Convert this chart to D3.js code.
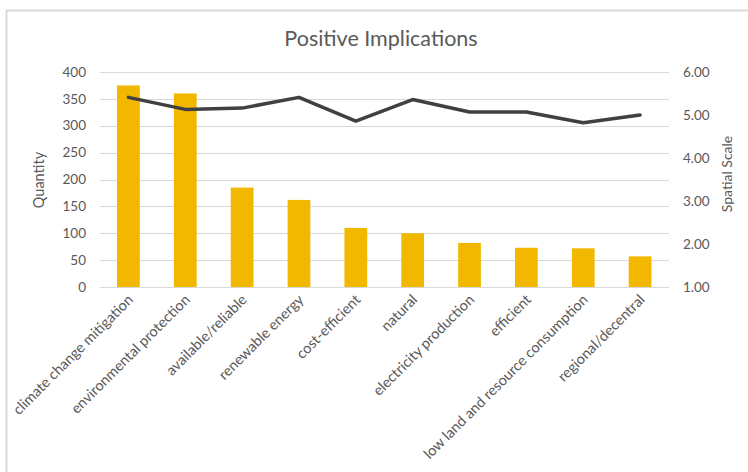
<!DOCTYPE html>
<html>
<head>
<meta charset="utf-8">
<script src="https://cdn.jsdelivr.net/npm/d3@7"></script>
<style>
  body { margin: 0; background: #fff; }
  svg { display: block; font-family: Lato, "Open Sans", sans-serif; }
</style>
</head>
<body>
<svg id="chart" width="748" height="472"></svg>
<script>
const categories = [
  "climate change mitigation", "environmental protection", "available/reliable",
  "renewable energy", "cost-efficient", "natural", "electricity production",
  "efficient", "low land and resource consumption", "regional/decentral"
];
const quantity = [375, 360, 185, 162, 110, 100, 82, 73, 72, 57];
const spatialScale = [5.41, 5.13, 5.16, 5.41, 4.86, 5.36, 5.07, 5.07, 4.82, 5.0];
const leftTicks = [0, 50, 100, 150, 200, 250, 300, 350, 400];
const rightTicks = [1, 2, 3, 4, 5, 6];

const svg = d3.select("#chart");
const margin = { top: 72, right: 80, bottom: 185, left: 100 };
const W = 748, H = 472;
const textColor = "#595959";

// chart frame (only top/left edges visible in the crop)
svg.append("path")
  .attr("d", `M6.5,${H} V10.5 H${W}`)
  .attr("fill", "none")
  .attr("stroke", "#d9d9d9")
  .attr("stroke-width", 2);

const x = d3.scaleBand()
  .domain(categories)
  .range([margin.left, 668.5])
  .paddingInner(0.6)
  .paddingOuter(0.3);

const y = d3.scaleLinear().domain([0, 400]).range([287, margin.top]);
const y2 = d3.scaleLinear().domain([1, 6]).range([287, margin.top]);

// gridlines
svg.append("g")
  .selectAll("line")
  .data(leftTicks)
  .join("line")
  .attr("x1", margin.left).attr("x2", 669)
  .attr("y1", d => Math.round(y(d)) + 0.5).attr("y2", d => Math.round(y(d)) + 0.5)
  .attr("stroke", "#d9d9d9")
  .attr("stroke-width", 1.2);

// bars
svg.append("g")
  .selectAll("rect")
  .data(categories)
  .join("rect")
  .attr("x", d => x(d))
  .attr("width", x.bandwidth())
  .attr("y", (d, i) => y(quantity[i]))
  .attr("height", (d, i) => y(0) - y(quantity[i]))
  .attr("fill", "#f2b800");

// line
const line = d3.line()
  .x((d, i) => x(categories[i]) + x.bandwidth() / 2)
  .y(d => y2(d));

svg.append("path")
  .datum(spatialScale)
  .attr("d", line)
  .attr("fill", "none")
  .attr("stroke", "#404040")
  .attr("stroke-width", 3.5)
  .attr("stroke-linejoin", "round")
  .attr("stroke-linecap", "round");

// left axis labels
svg.append("g")
  .selectAll("text")
  .data(leftTicks)
  .join("text")
  .attr("x", 86)
  .attr("y", d => y(d))
  .attr("dy", "0.35em")
  .attr("text-anchor", "end")
  .attr("font-size", 13.5)
  .attr("fill", textColor)
  .text(d => d);

// right axis labels
svg.append("g")
  .selectAll("text")
  .data(rightTicks)
  .join("text")
  .attr("x", 683)
  .attr("y", d => y2(d))
  .attr("dy", "0.35em")
  .attr("text-anchor", "start")
  .attr("font-size", 13.5)
  .attr("fill", textColor)
  .text(d => d.toFixed(2));

// category labels
svg.append("g")
  .selectAll("text")
  .data(categories)
  .join("text")
  .attr("transform", d => `translate(${x(d) + x.bandwidth() / 2 + 2},${297}) rotate(-45)`)
  .attr("text-anchor", "end")
  .attr("dy", "0.35em")
  .attr("font-size", 14.5)
  .attr("fill", textColor)
  .text(d => d);

// title
svg.append("text")
  .attr("x", 381)
  .attr("y", 46)
  .attr("text-anchor", "middle")
  .attr("font-size", 21.5)
  .attr("fill", textColor)
  .text("Positive Implications");

// axis titles
svg.append("text")
  .attr("transform", "translate(44,180) rotate(-90)")
  .attr("text-anchor", "middle")
  .attr("font-size", 14.5)
  .attr("fill", textColor)
  .text("Quantity");

svg.append("text")
  .attr("transform", "translate(732,174) rotate(-90)")
  .attr("text-anchor", "middle")
  .attr("font-size", 14)
  .attr("fill", textColor)
  .text("Spatial Scale");
</script>
</body>
</html>
